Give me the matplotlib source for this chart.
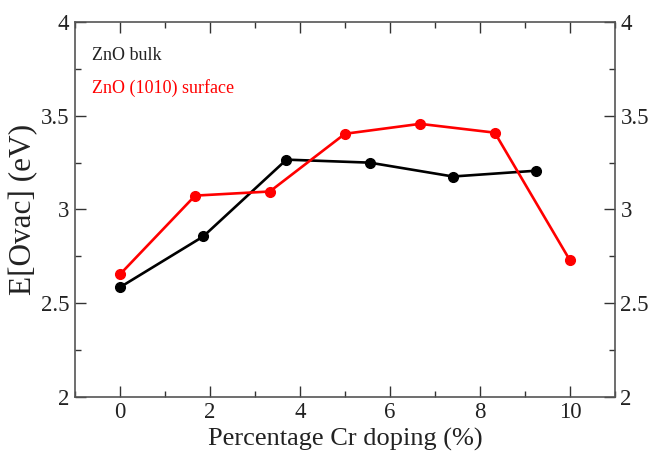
import matplotlib
matplotlib.use("Agg")
import matplotlib.pyplot as plt
from matplotlib.ticker import MultipleLocator

plt.rcParams['font.family'] = ['Liberation Serif', 'DejaVu Serif']

bulk_x = [0, 1.85, 3.7, 5.55, 7.4, 9.25]
bulk_y = [2.585, 2.856, 3.266, 3.25, 3.176, 3.207]
surf_x = [0, 1.67, 3.33, 5.0, 6.67, 8.33, 10.0]
surf_y = [2.654, 3.074, 3.096, 3.404, 3.457, 3.41, 2.729]

xticks = [0, 2, 4, 6, 8, 10]
yticks = [2, 2.5, 3, 3.5, 4]
ytick_labels = ['2', '2.5', '3', '3.5', '4']

fig = plt.figure(figsize=(6.5, 4.51), dpi=100)
ax = fig.add_axes([0.1154, 0.120, 0.8306, 0.831])

ax.plot(bulk_x, bulk_y, color='black', lw=1.9, marker='o', ms=7)
ax.plot(surf_x, surf_y, color='#ff0000', lw=1.9, marker='o', ms=7)

ax.set_xlim(-1, 11)
ax.set_ylim(2, 4)
ax.set_xticks(xticks)
ax.set_xticklabels([str(t) for t in xticks])
ax.set_yticks(yticks)
ax.set_yticklabels(ytick_labels)
ax.xaxis.set_minor_locator(MultipleLocator(1))
ax.yaxis.set_minor_locator(MultipleLocator(0.25))
ax.tick_params(which='both', direction='in', top=True, right=True,
               labelright=True, labelsize=16.5, colors='#333333', width=1)
ax.tick_params(which='major', length=8, pad=4)
ax.tick_params(which='minor', length=4)
for lab in ax.get_xticklabels() + ax.get_yticklabels():
    lab.set_color('#222222')
for s in ax.spines.values():
    s.set_color('#555555')
    s.set_linewidth(1.2)

ax.set_xlabel('Percentage Cr doping (%)', fontsize=19, labelpad=3, color='#222222')
ax.set_ylabel('E[Ovac] (eV)', fontsize=22.5, labelpad=2, color='#222222')

ax.text(0.031, 0.912, 'ZnO bulk', transform=ax.transAxes, fontsize=13,
        color='#222222', va='center', ha='left')
ax.text(0.031, 0.824, 'ZnO (1010) surface', transform=ax.transAxes, fontsize=13,
        color='#ff0000', va='center', ha='left')

fig.savefig('out.png', dpi=100)
